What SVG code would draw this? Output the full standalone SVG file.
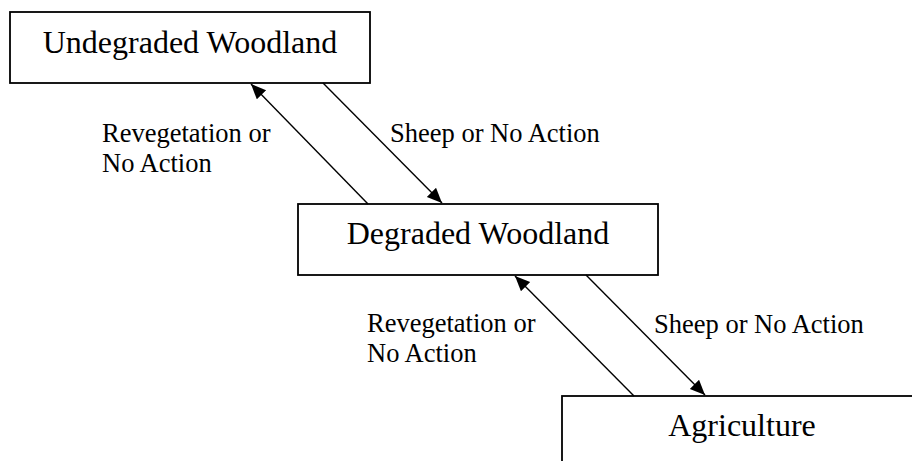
<svg xmlns="http://www.w3.org/2000/svg" width="912" height="461" viewBox="0 0 912 461">
<style>
.box{fill:#fff;stroke:#000;stroke-width:1.8}
text{font-family:'Liberation Serif','DejaVu Serif',serif;fill:#000}
.nt{font-size:32px;text-anchor:middle}
.lb{font-size:26.5px}
.c{stroke:#000;stroke-width:1.4;fill:none;marker-end:url(#ah)}
</style>
<defs>
<marker id="ah" markerUnits="userSpaceOnUse" markerWidth="16" markerHeight="14" refX="15" refY="6.5" orient="auto">
<path d="M0,0 L15,6.5 L0,13 z" fill="#000"/>
</marker>
</defs>
<rect width="912" height="461" fill="#fff"/>
<g id="n1"><rect class="box" x="10" y="12" width="360" height="71"/><text class="nt" x="190" y="53" font-family="Liberation Serif, serif">Undegraded Woodland</text></g>
<g id="n2"><rect class="box" x="298" y="204" width="360" height="71"/><text class="nt" x="478" y="244" font-family="Liberation Serif, serif">Degraded Woodland</text></g>
<g id="n3"><rect class="box" x="562" y="396" width="360" height="72"/><text class="nt" x="742" y="436" font-family="Liberation Serif, serif">Agriculture</text></g>
<g id="connectors">
<line class="c" x1="368" y1="204" x2="251" y2="84"/>
<line class="c" x1="323" y1="83" x2="442" y2="203"/>
<line class="c" x1="634" y1="396" x2="515" y2="276"/>
<line class="c" x1="586" y1="275" x2="705" y2="395"/>
</g>
<g id="labels" font-family="Liberation Serif, serif">
<text class="lb" x="102" y="142">Revegetation or</text>
<text class="lb" x="102" y="172">No Action</text>
<text class="lb" x="390" y="142">Sheep or No Action</text>
<text class="lb" x="367" y="332">Revegetation or</text>
<text class="lb" x="367" y="362">No Action</text>
<text class="lb" x="654" y="333">Sheep or No Action</text>
</g>
</svg>
